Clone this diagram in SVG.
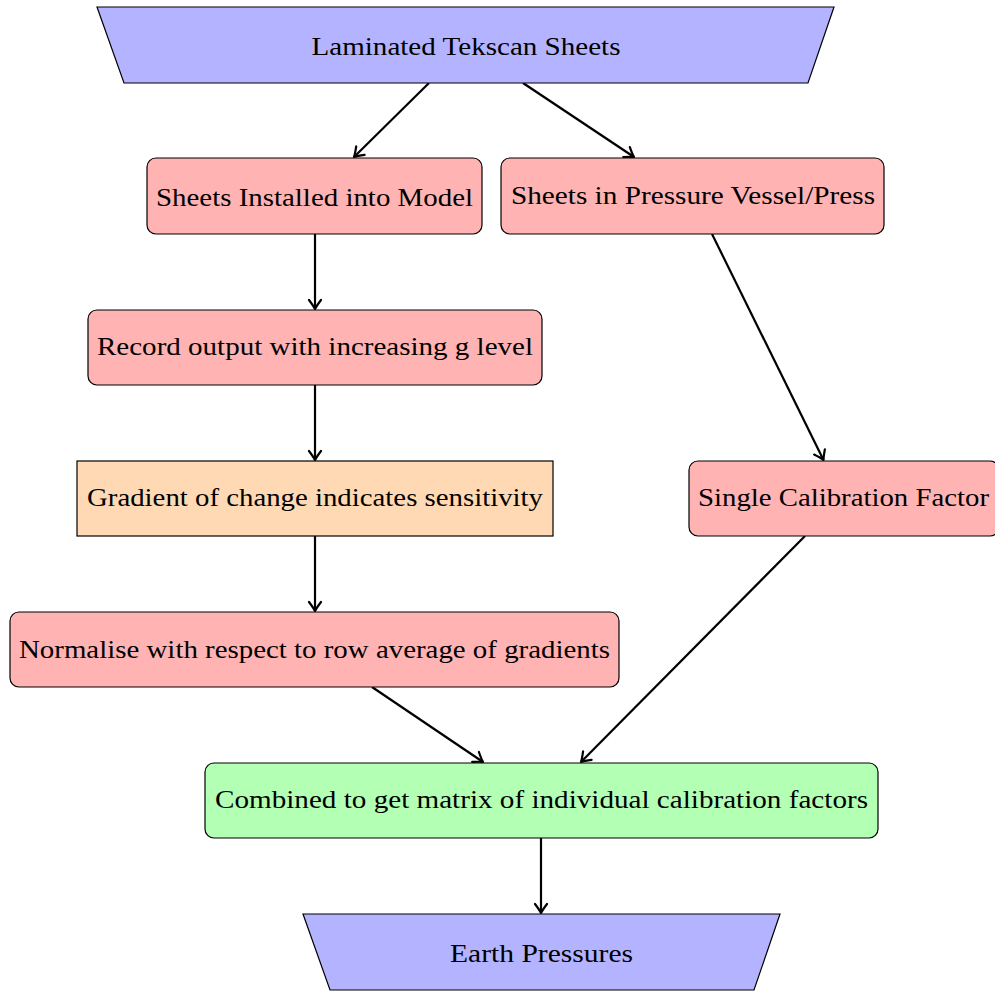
<svg xmlns="http://www.w3.org/2000/svg" width="995" height="991" viewBox="0 0 995 991">
<defs>
<style>
.n{stroke:#000;stroke-width:1.2}
.blue{fill:#b3b3ff}
.red{fill:#ffb3b3}
.org{fill:#ffd9b3}
.grn{fill:#b3ffb3}
text{font-family:"Liberation Serif","DejaVu Serif",serif;font-size:25px;fill:#000;text-anchor:middle}
.e{stroke:#000;stroke-width:2.2;fill:none;marker-end:url(#ah)}
</style>
<marker id="ah" markerUnits="userSpaceOnUse" viewBox="-12 -8 14 16" refX="0" refY="0" markerWidth="14" markerHeight="16" orient="auto">
<path d="M-9,-6 Q-3,-1.5 0,0 Q-3,1.5 -9,6" fill="none" stroke="#000" stroke-width="2.2" stroke-linecap="round" stroke-linejoin="round"/>
</marker>
</defs>
<rect width="995" height="991" fill="#fff"/>
<g id="edges">
<line class="e" x1="429" y1="83" x2="354" y2="157"/>
<line class="e" x1="523" y1="83" x2="634" y2="157"/>
<line class="e" x1="315" y1="234" x2="315" y2="309"/>
<line class="e" x1="712" y1="234" x2="823.5" y2="460"/>
<line class="e" x1="315" y1="385" x2="315" y2="460"/>
<line class="e" x1="315" y1="536" x2="315" y2="611"/>
<line class="e" x1="805" y1="536" x2="581" y2="762"/>
<line class="e" x1="372" y1="687" x2="483" y2="762"/>
<line class="e" x1="541" y1="838" x2="541" y2="913"/>
</g>
<g id="n1">
<polygon class="n blue" points="97,7 834,7 808,83 124,83"/>
<text x="466" y="55" textLength="309" lengthAdjust="spacingAndGlyphs">Laminated Tekscan Sheets</text>
</g>
<g id="n2">
<rect class="n red" x="147" y="158" width="335" height="76" rx="9"/>
<text x="314.5" y="206" textLength="317" lengthAdjust="spacingAndGlyphs">Sheets Installed into Model</text>
</g>
<g id="n3">
<rect class="n red" x="501" y="158" width="383" height="76" rx="9"/>
<text x="693" y="203.5" textLength="364" lengthAdjust="spacingAndGlyphs">Sheets in Pressure Vessel/Press</text>
</g>
<g id="n4">
<rect class="n red" x="88" y="310" width="454" height="75" rx="9"/>
<text x="315" y="355" textLength="436" lengthAdjust="spacingAndGlyphs">Record output with increasing g level</text>
</g>
<g id="n5">
<rect class="n org" x="77" y="461" width="476" height="75"/>
<text x="315" y="506" textLength="456" lengthAdjust="spacingAndGlyphs">Gradient of change indicates sensitivity</text>
</g>
<g id="n6">
<rect class="n red" x="689" y="461" width="310" height="75" rx="9"/>
<text x="843.5" y="505.7" textLength="291" lengthAdjust="spacingAndGlyphs">Single Calibration Factor</text>
</g>
<g id="n7">
<rect class="n red" x="10" y="612" width="609" height="75" rx="9"/>
<text x="314.5" y="658.3" textLength="591" lengthAdjust="spacingAndGlyphs">Normalise with respect to row average of gradients</text>
</g>
<g id="n8">
<rect class="n grn" x="205" y="763" width="673" height="75" rx="9"/>
<text x="541.5" y="808" textLength="653" lengthAdjust="spacingAndGlyphs">Combined to get matrix of individual calibration factors</text>
</g>
<g id="n9">
<polygon class="n blue" points="303,914 780,914 754,990 330,990"/>
<text x="541.5" y="962" textLength="183" lengthAdjust="spacingAndGlyphs">Earth Pressures</text>
</g>
</svg>
